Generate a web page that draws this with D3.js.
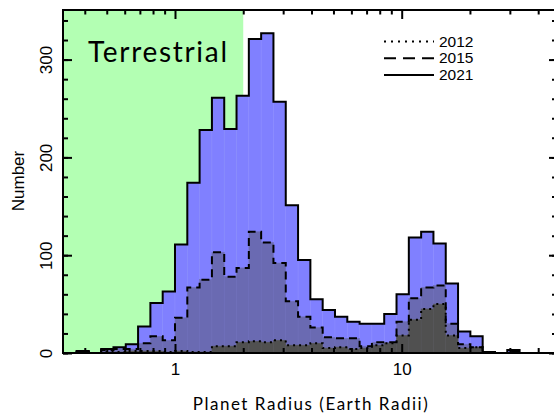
<html>
<head>
<style>
body {
  margin: 0;
  background: #fff;
}
svg text {
  font-family: "Liberation Sans", Arial, sans-serif;
  fill: #000;
}
.frame, .tick line {
  stroke: #000;
  stroke-width: 2px;
}
.title {
  font-family: Lato, "DejaVu Sans", sans-serif !important;
}
</style>
</head>
<body>

<div class="chart"></div>

<script src="https://d3js.org/d3.v7.min.js"></script>
<script>
// histogram bins are 0.125 wide in ln(R), first bin starts at R = e^-1
var binStep = 0.125;
var binFirst = -8;

var counts2021 = [2, 0, 4, 6, 9, 27, 51, 63, 111, 174, 228, 261, 229, 263, 321, 327, 257, 151,
  95, 55, 44, 37, 32, 30, 30, 40, 60, 118, 124, 112, 71, 22, 17, 1, 0, 3];
var counts2015 = [1, 0, 3, 4, 4, 10, 17, 13, 36, 67, 75, 103, 78, 87, 124, 113, 92, 53,
  37, 26, 16, 15, 15, 7, 11, 11, 32, 56, 67, 69, 30, 9, 6, 1, 0, 1];
var counts2012 = [0, 0, 1, 1, 2, 2, 2, 1, 2, 1, 1, 7, 7, 11, 12, 11, 13, 8,
  8, 10, 5, 6, 4, 5, 8, 10, 18, 34, 45, 50, 18, 5, 6, 0, 0, 0];

var years = ["2012", "2015", "2021"];
var yMajor = [0, 100, 200, 300];
var yMinor = d3.range(0, 341, 20);
var xMajor = [1, 10];
var xMinor = [0.4, 0.5, 0.6, 0.7, 0.8, 0.9, 2, 3, 4, 5, 6, 7, 8, 9, 20, 30, 40];
var terrestrialMax = 2;

var width = 554, height = 413;
var plot = {left: 63, top: 10, right: 555, bottom: 353};

var svg = d3.select(".chart").append("svg")
    .attr("width", width)
    .attr("height", height);

var x = d3.scaleLog()
    .domain([0.3206, 47.45])
    .range([plot.left, plot.right]);

var y = d3.scaleLinear()
    .domain([0, 350.7])
    .range([plot.bottom, plot.top]);

// terrestrial zone
svg.append("rect")
    .attr("x", plot.left)
    .attr("y", plot.top)
    .attr("width", x(terrestrialMax) - plot.left)
    .attr("height", plot.bottom - plot.top)
    .attr("fill", "#b3ffb3");

svg.append("text")
    .attr("class", "title")
    .attr("x", 88)
    .attr("y", 62)
    .attr("font-size", 28)
    .attr("textLength", 139)
    .text("Terrestrial");

function binLo(i){ return Math.exp((binFirst + i) * binStep); }
function binHi(i){ return Math.exp((binFirst + i + 1) * binStep); }

function stepPoints(counts){
  var pts = [];
  counts.forEach(function(c, i){
    pts.push([x(binLo(i)), y(c)]);
    pts.push([x(binHi(i)), y(c)]);
  });
  return [[pts[0][0], y(0)]].concat(pts, [[pts[pts.length - 1][0], y(0)]]);
}

var series = [
  {counts: counts2021, fill: "#8080ff", edge: "#8a8aff", dash: null},
  {counts: counts2015, fill: "#6a6ab2", edge: "#7070b8", dash: "8,5"},
  {counts: counts2012, fill: "#505050", edge: "#585858", dash: "2,4"}
];

var line = d3.line();

series.forEach(function(s){
  svg.append("g").selectAll("rect")
      .data(s.counts)
    .enter().append("rect")
      .attr("x", function(d, i){ return x(binLo(i)); })
      .attr("width", function(d, i){ return x(binHi(i)) - x(binLo(i)); })
      .attr("y", function(d){ return y(d); })
      .attr("height", function(d){ return y(0) - y(d); })
      .attr("fill", s.fill)
      .attr("stroke", s.edge)
      .attr("stroke-width", 0.6);
});

series.forEach(function(s){
  svg.append("path")
      .attr("d", line(stepPoints(s.counts)))
      .attr("fill", "none")
      .attr("stroke", "#000")
      .attr("stroke-width", 2)
      .attr("stroke-dasharray", s.dash);
});

// axes: ticks point inward on all four sides
function noDomain(g){ g.select(".domain").remove(); }

svg.append("g")
    .attr("transform", "translate(" + plot.left + ",0)")
    .call(d3.axisLeft(y).tickValues(yMinor).tickSize(-5).tickFormat(""))
    .call(noDomain);

var yAxis = svg.append("g")
    .attr("transform", "translate(" + plot.left + ",0)")
    .call(d3.axisLeft(y).tickValues(yMajor).tickSize(-9))
    .call(noDomain);

yAxis.selectAll("text")
    .attr("x", 0)
    .attr("dy", null)
    .attr("font-size", 17)
    .attr("text-anchor", "middle")
    .attr("transform", "translate(-11,0) rotate(-90)");

svg.append("g")
    .attr("transform", "translate(" + plot.right + ",0)")
    .call(d3.axisRight(y).tickValues(yMinor).tickSize(-3).tickFormat(""))
    .call(noDomain);

svg.append("g")
    .attr("transform", "translate(" + plot.right + ",0)")
    .call(d3.axisRight(y).tickValues(yMajor).tickSize(-6).tickFormat(""))
    .call(noDomain);

svg.append("g")
    .attr("transform", "translate(0," + plot.bottom + ")")
    .call(d3.axisBottom(x).tickValues(xMinor).tickSize(-5).tickFormat(""))
    .call(noDomain);

var xAxis = svg.append("g")
    .attr("transform", "translate(0," + plot.bottom + ")")
    .call(d3.axisBottom(x).tickValues(xMajor).tickSize(-9).tickPadding(10).tickFormat(d3.format("d")))
    .call(noDomain);

xAxis.selectAll("text")
    .attr("font-size", 17);

svg.append("g")
    .attr("transform", "translate(0," + plot.top + ")")
    .call(d3.axisTop(x).tickValues(xMinor).tickSize(-4.5).tickFormat(""))
    .call(noDomain);

svg.append("g")
    .attr("transform", "translate(0," + plot.top + ")")
    .call(d3.axisTop(x).tickValues(xMajor).tickSize(-9).tickFormat(""))
    .call(noDomain);

svg.selectAll(".tick line").attr("stroke", "#000").attr("stroke-width", 2);

// frame
svg.append("path")
    .attr("class", "frame")
    .attr("d", "M" + plot.right + "," + plot.top + "H" + plot.left + "V" + plot.bottom + "H" + plot.right)
    .attr("fill", "none");

// axis titles
svg.append("text")
    .attr("transform", "translate(24,181) rotate(-90)")
    .attr("text-anchor", "middle")
    .attr("font-size", 17)
    .text("Number");

svg.append("text")
    .attr("class", "title")
    .attr("x", 192.7)
    .attr("y", 410)
    .attr("font-size", 17)
    .attr("textLength", 235)
    .text("Planet Radius (Earth Radii)");

// legend
var legendDash = [ "2,5", "12,7", null ];
var legend = svg.append("g").selectAll("g")
    .data(years)
  .enter().append("g")
    .attr("transform", function(d, i){ return "translate(0," + (41.5 + i * 16.7) + ")"; });

legend.append("line")
    .attr("x1", 384)
    .attr("x2", 434)
    .attr("stroke", "#000")
    .attr("stroke-width", 2)
    .attr("stroke-dasharray", function(d, i){ return legendDash[i]; });

legend.append("text")
    .attr("x", 439)
    .attr("y", 5)
    .attr("font-size", 15.5)
    .text(function(d){ return d; });
</script>

</body>
</html>
